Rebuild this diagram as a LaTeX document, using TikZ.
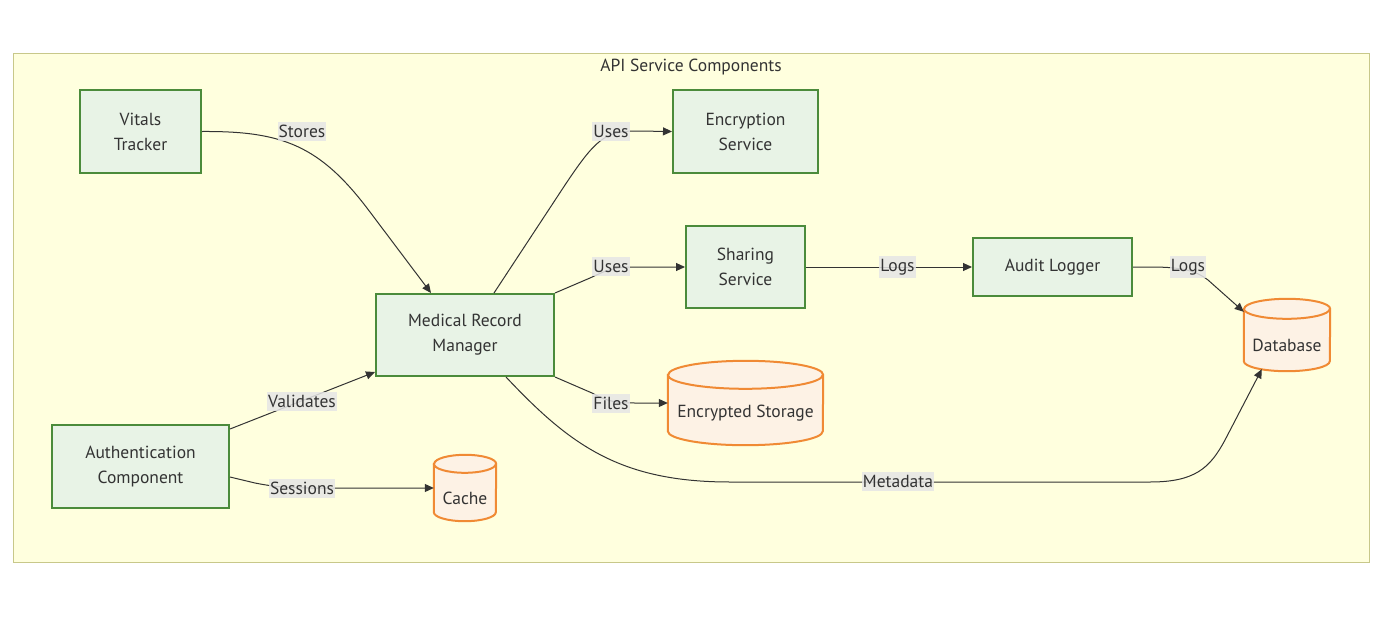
\documentclass[tikz,border=0pt]{standalone}
\usepackage{fontspec}
\setmainfont{PT Sans}
\usetikzlibrary{arrows.meta,calc}
\definecolor{clufill}{HTML}{FFFFDE}
\definecolor{clustroke}{HTML}{C8C88A}
\definecolor{procfill}{HTML}{E8F3E6}
\definecolor{procstroke}{HTML}{4B8B3B}
\definecolor{cylfillc}{HTML}{FDF2E5}
\definecolor{cylstroke}{HTML}{F08A34}
\definecolor{txt}{HTML}{333333}
\definecolor{lblbg}{HTML}{E6E6E6}
\pgfdeclarelayer{back}
\pgfdeclarelayer{mid}
\pgfsetlayers{back,mid,main}
\newcommand\drawcyl[3]{%
  \begin{pgfonlayer}{mid}
  \path[cylbody] ([yshift=-#3pt]#1.north west) -- ([yshift=#3pt]#1.south west)
    arc[start angle=180,end angle=360,x radius=#2pt,y radius=#3pt]
    -- ([yshift=-#3pt]#1.north east)
    arc[start angle=0,end angle=180,x radius=#2pt,y radius=#3pt] -- cycle;
  \draw[cylline] ([yshift=-#3pt]#1.north west)
    arc[start angle=180,end angle=360,x radius=#2pt,y radius=#3pt];
  \end{pgfonlayer}%
}
\begin{document}
\begin{tikzpicture}[x=1pt,y=-1pt,
  every node/.style={font=\fontsize{17.5}{25}\selectfont, text=txt},
  cluster/.style={draw=clustroke, fill=clufill, line width=1pt},
  proc/.style={draw=procstroke, fill=procfill, line width=2pt, align=center, inner sep=0pt},
  cylnode/.style={draw=none, fill=none, inner sep=0pt},
  cylbody/.style={draw=cylstroke, fill=cylfillc, line width=2pt},
  cylline/.style={draw=cylstroke, line width=2pt},
  lbl/.style={fill=lblbg, fill opacity=0.85, text opacity=1, inner xsep=1pt, inner ysep=3pt},
  conn/.style={draw=txt, line width=1pt, -{Triangle[length=9pt,width=8pt]}}
]
\useasboundingbox (0,0) rectangle (1379,624);
\begin{pgfonlayer}{back}
\node[cluster, minimum width=1356pt, minimum height=509pt] (clu) at (691,307.5) {};
\end{pgfonlayer}
\node (ttl) at (691,67.5) {API Service Components};

\node[proc, minimum width=121pt, minimum height=83pt] (vt) at (140.5,131.5) {Vitals\\Tracker};
\node[proc, minimum width=145pt, minimum height=83pt] (enc) at (745.5,131.5) {Encryption\\Service};
\node[proc, minimum width=119pt, minimum height=82pt] (sh) at (745.5,267) {Sharing\\Service};
\node[proc, minimum width=159pt, minimum height=58pt] (al) at (1052.5,267) {Audit Logger};
\node[proc, minimum width=178pt, minimum height=82pt] (mrm) at (465,335) {Medical Record\\Manager};
\node[proc, minimum width=177pt, minimum height=83pt] (auth) at (140.5,466.5) {Authentication\\Component};

\node[cylnode, minimum width=155pt, minimum height=84pt, label={[yshift=-10pt]center:Encrypted Storage}] (es) at (745.5,403) {};
\drawcyl{es}{77.5}{14}
\node[cylnode, minimum width=62pt, minimum height=66pt, label={[yshift=-10pt]center:Cache}] (cache) at (465,488) {};
\drawcyl{cache}{31}{9}
\node[cylnode, minimum width=86pt, minimum height=72pt, label={[yshift=-10pt]center:Database}] (db) at (1287,335) {};
\drawcyl{db}{43}{10}

% connectors
\draw[conn] (vt.east) .. controls (282,131) and (320,145) .. (370,212) -- ([xshift=56pt]mrm.north west);
\draw[conn] ([xshift=119pt]mrm.north west) -- (565,185) .. controls (595,140) and (605,131) .. (635,131) -- (enc.west);
\draw[conn] (mrm.north east) -- (590,278) .. controls (605,271) and (612,267) .. (635,267) -- (sh.west);
\draw[conn] (sh.east) -- (al.west);
\draw[conn] (al.east) -- (1150,267) .. controls (1180,267) and (1195,270) .. (1208,280) -- ([yshift=-13pt]db.north west);
\draw[conn] ([xshift=131pt]mrm.south west) .. controls (570,445) and (620,482) .. (730,482) -- (1150,482) .. controls (1195,482) and (1210,468) .. (1225,440) -- ([xshift=18pt,yshift=2pt]db.south west);
\draw[conn] (mrm.south east) -- (592,393) .. controls (605,400) and (612,403) .. (635,403) -- (es.west);
\draw[conn] ([yshift=-5pt]auth.north east) -- ([yshift=5pt]mrm.south west);
\draw[conn] ([yshift=-53pt]auth.north east) -- (255,483) .. controls (270,486) and (285,488) .. (310,488) -- (cache.west);

% labels
\node[lbl] (l1) at (302,131.5) {Stores};
\node[lbl] (l2) at (611,131.5) {Uses};
\node[lbl] (l3) at (611,266.5) {Uses};
\node[lbl] (l4) at (897.5,267) {Logs};
\node[lbl] (l5) at (1188,267) {Logs};
\node[lbl] (l6) at (611,403.5) {Files};
\node[lbl] (l7) at (302,401.5) {Validates};
\node[lbl] (l8) at (302,488.5) {Sessions};
\node[lbl] (l9) at (898,481.5) {Metadata};
\end{tikzpicture}
\end{document}
